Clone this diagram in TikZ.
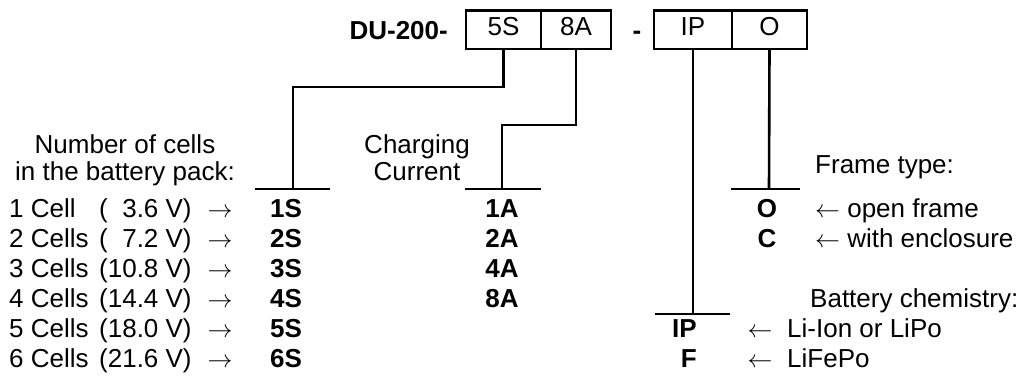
\documentclass[tikz,border=0pt]{standalone}
\usepackage{fontspec}
\setmainfont{Liberation Sans}
\usetikzlibrary{positioning}

\begin{document}
\fontsize{26}{27}\selectfont
\begin{tikzpicture}[
        x=1pt, y=-1pt,
        codebox/.style={
            draw=black,
            line width=2.6pt,
            minimum height=38.5pt,
            outer sep=0pt,
            inner sep=0pt,
            text height=18pt,
            text depth=7pt
        },
        txt/.style={inner sep=0pt, anchor=base},
        txtL/.style={inner sep=0pt, anchor=base west},
        code/.style={inner sep=0pt, anchor=base, font=\bfseries},
        wire/.style={line width=2.6pt, draw=black}
    ]
        \useasboundingbox (0,0) rectangle (1023,378);

        \node[code, anchor=base east] (prefix) at (448,39) {DU-200-};
        \node[codebox, minimum width=75pt] (cells) at (503.5,29.7) {5S};
        \node[codebox, minimum width=70pt, right=0pt of cells] (curr) {8A};
        \node[code] (dash) at (637,39) {-};
        \node[codebox, minimum width=78pt] (chem) at (693,29.7) {IP};
        \node[codebox, minimum width=75pt, right=0pt of chem] (frame) {O};

        \coordinate (teeS) at (293,189);
        \coordinate (teeA) at (502,189);
        \coordinate (teeP) at (693,314);
        \coordinate (teeO) at (769,189);

        \draw[wire] (cells.south) -- ++(0,38) -| (teeS);
        \draw[wire] (curr.south) -- ++(0,76) -| (teeA);
        \draw[wire] (chem.south) -- (teeP);
        \draw[wire] (frame.south) -- (teeO);

        \draw[wire] (teeS) ++(-38,0) -- ++(75,0);
        \draw[wire] (teeA) ++(-37,0) -- ++(76,0);
        \draw[wire] (teeP) ++(-38,0) -- ++(75,0);
        \draw[wire] (teeO) ++(-38,0) -- ++(69,0);

        \node[txt] (cellsHdrA) at (125,153) {Number of cells};
        \node[txt] (cellsHdrB) at (125,180) {in the battery pack:};
        \foreach \n/\word/\volt [count=\i] in {1/Cell/\phantom{0}3.6, 2/Cells/\phantom{0}7.2,
                3/Cells/10.8, 4/Cells/14.4, 5/Cells/18.0, 6/Cells/21.6} {
            \node[txtL] (cnt\i) at (9,187+30*\i) {\n\ \word};
            \node[txtL] (volt\i) at (99,187+30*\i) {(\volt\ V)};
            \node[txt] (arrS\i) at (220,187+30*\i) {$\rightarrow$};
            \node[code] (codeS\i) at (286,187+30*\i) {\n S};
        }

        \node[txt] (currHdrA) at (417,153) {Charging};
        \node[txt] (currHdrB) at (417,180) {Current};
        \foreach \a [count=\i] in {1,2,4,8}
            \node[code] (codeA\i) at (502,187+30*\i) {\a A};

        \node[txtL] (frameHdr) at (815,173) {Frame type:};
        \node[code] (codeO) at (767,217) {O};
        \node[txtL] (frameO) at (815,217) {$\leftarrow$ open frame};
        \node[code] (codeC) at (767,247) {C};
        \node[txtL] (frameC) at (815,247) {$\leftarrow$ with enclosure};

        \node[txtL] (chemHdr) at (810,307) {Battery chemistry:};
        \node[code, anchor=base east] (codeIP) at (697,337) {IP};
        \node[txt] (arrIP) at (760,337) {$\leftarrow$};
        \node[txtL] (chemIP) at (787,337) {Li-Ion or LiPo};
        \node[code, anchor=base east] (codeF) at (697,367) {F};
        \node[txt] (arrF) at (760,367) {$\leftarrow$};
        \node[txtL] (chemF) at (787,367) {LiFePo};
    \end{tikzpicture}
\end{document}
